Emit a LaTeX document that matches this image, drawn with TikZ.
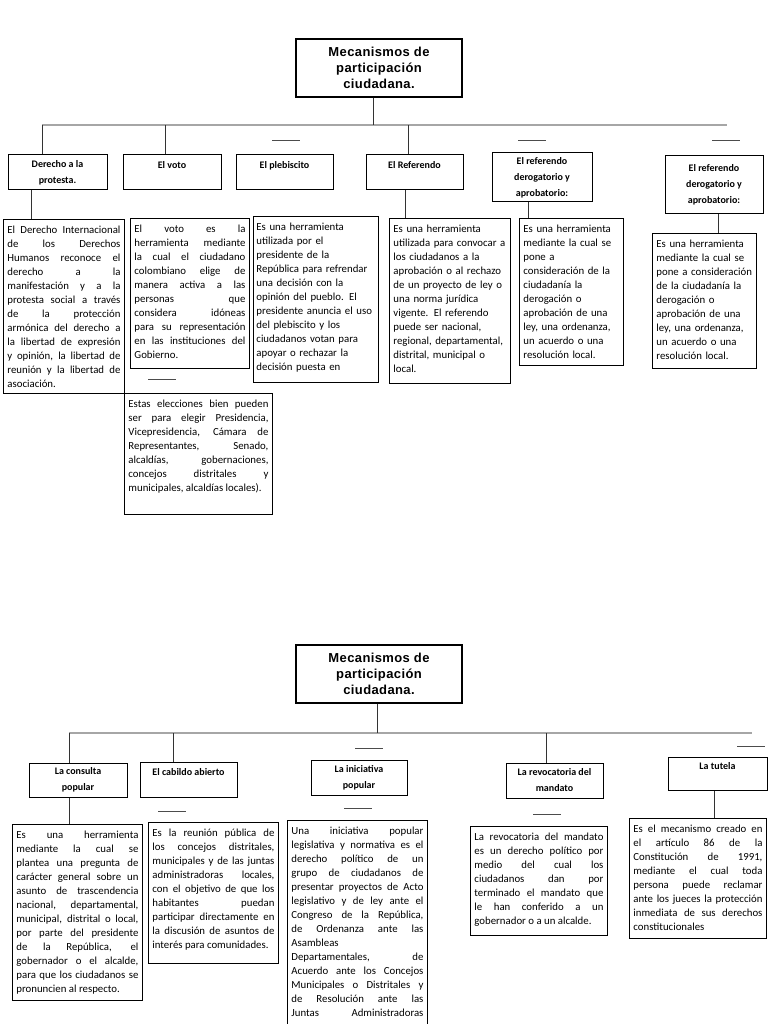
\documentclass[tikz,border=0pt]{standalone}
\usepackage{fontspec}
\setmainfont{Carlito}
\newfontfamily\titlefont[LetterSpace=3]{Liberation Sans}
\usetikzlibrary{positioning}

\begin{document}
\begin{tikzpicture}[
  x=1pt,
  y=-1pt,
  titlebox/.style={draw, line width=1.1pt, align=center, inner sep=2pt,
    font=\titlefont\bfseries\fontsize{13}{16}\selectfont,
    minimum width=166pt, minimum height=58pt},
  headbox/.style={draw, line width=1pt, align=center, inner xsep=2pt, inner ysep=1pt,
    execute at begin node={\rule{0pt}{13pt}}, font=\bfseries\fontsize{10}{16}\selectfont,
    minimum width=#1, minimum height=35pt},
  headbox/.default=98pt,
  descbox/.style={draw, line width=0.9pt, anchor=north west, align=justify,
    inner xsep=4pt, inner ysep=4pt, text height=10pt,
    font=\fontsize{10.8}{14}\selectfont},
  raggedbox/.style={descbox, align=left},
  bus/.style={gray!70, line width=1.2pt},
  drop/.style={black!80, line width=1pt},
  dashmark/.style={gray!60!black, line width=1pt}
]
\path[fill=white] (0,0) rectangle (768,1024);
\useasboundingbox (0,0) rectangle (768,1024);
\clip (0,0) rectangle (768,1024);

% primera hoja
\node[titlebox] (tTop) at (379,68) {Mecanismos de\\participación\\ciudadana.};
\coordinate (busA) at (42,125);
\coordinate (busB) at (727,125);
\draw[bus] (busA) -- (busB);
\draw[drop] ([xshift=-6pt]tTop.south) -- ([xshift=-6pt]tTop.south |- busA);

\node[headbox=99pt] (hDerecho) at (57.5,172.5) {Derecho a la\\protesta.};
\node[headbox] (hVoto) at (172,172.5) {El voto\\~};
\node[headbox=97pt] (hPlebiscito) at (284.5,172.5) {El plebiscito\\~};
\node[headbox=97pt] (hReferendo) at (414.5,172.5) {El Referendo\\~};
\node[headbox=100pt, minimum height=49pt] (hRefA) at (542,177.5) {El referendo\\derogatorio y\\aprobatorio:};
\node[headbox, minimum height=58pt] (hRefB) at (714,185) {El referendo\\derogatorio y\\aprobatorio:};

\draw[drop] (busA) -- (busA |- hDerecho.north);
\draw[drop] ([xshift=-7pt]hVoto.north |- busA) -- ([xshift=-7pt]hVoto.north);
\draw[drop] ([xshift=-6.5pt]hReferendo.north |- busA) -- ([xshift=-6.5pt]hReferendo.north);

\node[descbox, text width=113pt, text depth=156pt] (dDerecho) at (3,219)
  {El Derecho Internacional\linebreak de los Derechos\linebreak Humanos reconoce el\linebreak derecho a la\linebreak manifestación y a la\linebreak protesta social a través\linebreak de la protección\linebreak armónica del derecho a\linebreak la libertad de expresión\linebreak y opinión, la libertad de\linebreak reunión y la libertad de\linebreak asociación.};
\node[descbox, text width=111pt, text depth=132pt] (dVoto) at (130,218)
  {El voto es la\linebreak herramienta mediante\linebreak la cual el ciudadano\linebreak colombiano elige de\linebreak manera activa a las\linebreak personas que\linebreak considera idóneas\linebreak para su representación\linebreak en las instituciones del\linebreak Gobierno.};
\node[raggedbox, inner xsep=3pt, text width=119pt, text depth=148pt] (dPlebiscito) at (253,216)
  {Es una herramienta\\utilizada por el\\presidente de la\\República para refrendar\\una decisión con la\\opinión del pueblo. El\\presidente anuncia el uso\\del plebiscito y los\\ciudadanos votan para\\apoyar o rechazar la\\decisión puesta en};
\node[raggedbox, text width=113pt, text depth=147pt] (dReferendo) at (389,218)
  {Es una herramienta\\utilizada para convocar a\\los ciudadanos a la\\aprobación o al rechazo\\de un proyecto de ley o\\una norma jurídica\\vigente. El referendo\\puede ser nacional,\\regional, departamental,\\distrital, municipal o\\local.};
\node[raggedbox, text width=96pt, text depth=129pt] (dRefA) at (519,218)
  {Es una herramienta\\mediante la cual se\\pone a\\consideración de la\\ciudadanía la\\derogación o\\aprobación de una\\ley, una ordenanza,\\un acuerdo o una\\resolución local.};
\node[raggedbox, text width=96pt, text depth=117pt] (dRefB) at (652,233)
  {Es una herramienta\\mediante la cual se\\pone a consideración\\de la ciudadanía la\\derogación o\\aprobación de una\\ley, una ordenanza,\\un acuerdo o una\\resolución local.};
\node[descbox, text width=140pt, text depth=103pt] (dElecciones) at (124,393)
  {Estas elecciones bien pueden\linebreak ser para elegir Presidencia,\linebreak Vicepresidencia, Cámara de\linebreak Representantes, Senado,\linebreak alcaldías, gobernaciones,\linebreak concejos distritales y\linebreak municipales, alcaldías locales).};

\draw[drop] ([xshift=-26.5pt]hDerecho.south) -- ([xshift=-26.5pt]hDerecho.south |- dDerecho.north);
\draw[drop] ([xshift=-9.5pt]hReferendo.south) -- ([xshift=-9.5pt]hReferendo.south |- dReferendo.north);
\draw[drop] ([xshift=-14pt]hRefA.south) -- ([xshift=-14pt]hRefA.south |- dRefA.north);
\draw[drop] ([xshift=4pt]hRefB.south) -- ([xshift=4pt]hRefB.south |- dRefB.north);

% segunda hoja
\node[titlebox] (tBot) at (379,674) {Mecanismos de\\participación\\ciudadana.};
\coordinate (busC) at (69,733);
\coordinate (busD) at (752,733);
\draw[bus] (busC) -- (busD);
\draw[drop] ([xshift=-2pt]tBot.south) -- ([xshift=-2pt]tBot.south |- busC);

\node[headbox, minimum height=34pt] (hConsulta) at (78,780) {La consulta\\popular};
\node[headbox=97pt] (hCabildo) at (188.5,779.5) {El cabildo abierto\\~};
\node[headbox=96pt] (hIniciativa) at (359,777.5) {La iniciativa\\popular};
\node[headbox=97pt] (hRevocatoria) at (554.5,780.5) {La revocatoria del\\mandato};
\node[headbox=99pt, minimum height=33pt] (hTutela) at (717.5,773.5) {La tutela\\~};

\draw[drop] (busC) -- (busC |- hConsulta.north);
\draw[drop] ([xshift=-15.5pt]hCabildo.north |- busC) -- ([xshift=-15.5pt]hCabildo.north);
\draw[drop] ([xshift=-8.5pt]hRevocatoria.north |- busC) -- ([xshift=-8.5pt]hRevocatoria.north);

\node[descbox, text width=122pt, text depth=158pt] (dConsulta) at (12,824)
  {Es una herramienta\linebreak mediante la cual se\linebreak plantea una pregunta de\linebreak carácter general sobre un\linebreak asunto de trascendencia\linebreak nacional, departamental,\linebreak municipal, distrital o local,\linebreak por parte del presidente\linebreak de la República, el\linebreak gobernador o el alcalde,\linebreak para que los ciudadanos se\linebreak pronuncien al respecto.};
\node[descbox, text width=122pt, text depth=123pt] (dCabildo) at (148,822)
  {Es la reunión pública de\linebreak los concejos distritales,\linebreak municipales y de las juntas\linebreak administradoras locales,\linebreak con el objetivo de que los\linebreak habitantes puedan\linebreak participar directamente en\linebreak la discusión de asuntos de\linebreak interés para comunidades.};
\node[descbox, text width=132pt, text depth=202pt] (dIniciativa) at (287,820)
  {Una iniciativa popular\linebreak legislativa y normativa es el\linebreak derecho político de un\linebreak grupo de ciudadanos de\linebreak presentar proyectos de Acto\linebreak legislativo y de ley ante el\linebreak Congreso de la República,\linebreak de Ordenanza ante las\linebreak Asambleas\linebreak Departamentales, de\linebreak Acuerdo ante los Concejos\linebreak Municipales o Distritales y\linebreak de Resolución ante las\linebreak Juntas Administradoras\linebreak\mbox{}};
\node[descbox, text width=129pt, text depth=91pt] (dRevocatoria) at (470,826)
  {La revocatoria del mandato\linebreak es un derecho político por\linebreak medio del cual los\linebreak ciudadanos dan por\linebreak terminado el mandato que\linebreak le han conferido a un\linebreak gobernador o a un alcalde.};
\node[descbox, text width=129pt, text depth=102pt] (dTutela) at (629,818)
  {Es el mecanismo creado en\linebreak el artículo 86 de la\linebreak Constitución de 1991,\linebreak mediante el cual toda\linebreak persona puede reclamar\linebreak ante los jueces la protección\linebreak inmediata de sus derechos\linebreak constitucionales};

\draw[drop] ([xshift=-9pt]hConsulta.south) -- ([xshift=-9pt]hConsulta.south |- dConsulta.north);
\draw[drop] ([xshift=-3.5pt]hTutela.south) -- ([xshift=-3.5pt]hTutela.south |- dTutela.north);

\foreach \x/\y in {272/141,518/141,712/141,148/379,355/748,737/746,158/811,344/808,533/814}
  \draw[dashmark] (\x,\y) -- ++(28,0);
\end{tikzpicture}
\end{document}
